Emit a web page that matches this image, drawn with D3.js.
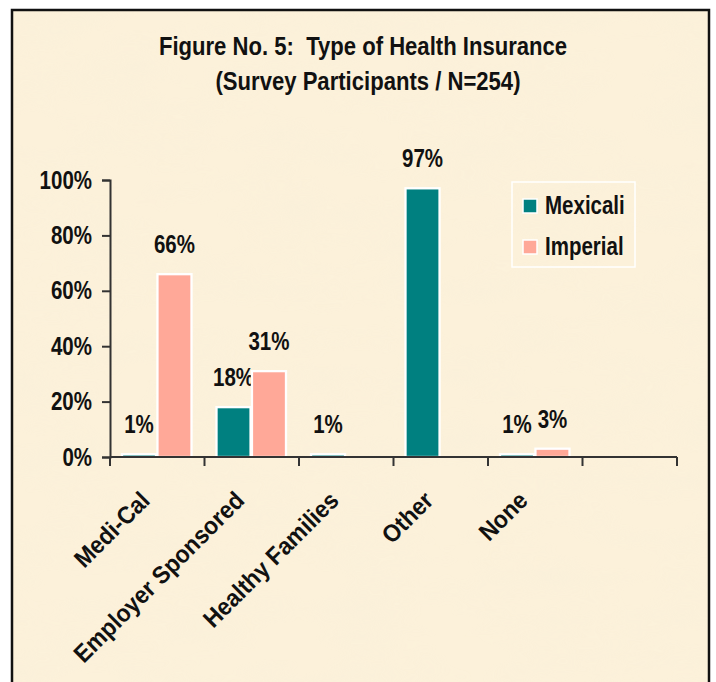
<!DOCTYPE html>
<html>
<head>
<meta charset="utf-8">
<script src="https://cdn.jsdelivr.net/npm/d3@7"></script>
<style>
  body { margin: 0; background: #fff; }
  svg text { font-family: "Liberation Sans", Arial, sans-serif; font-weight: bold; fill: #111; }
</style>
</head>
<body>
<svg id="chart" width="716" height="682"></svg>
<script>
// data
var categories = ["Medi-Cal", "Employer Sponsored", "Healthy Families", "Other", "None", ""];
var seriesNames = ["Mexicali", "Imperial"];
var mexicali = [1, 18, 1, 97, 1, 0];
var imperial = [66, 31, 0, 0, 3, 0];
var yTicks = [0, 20, 40, 60, 80, 100];
var colors = ["#008080", "#FFA898"];

var NARROW = 0.82; // squeeze to look like Arial Narrow

var svg = d3.select("#chart");

// narrow text helper
function ntext(parent, x, y, str, size, anchor, rot, sx) {
  var t = "translate(" + x + "," + y + ")" + (rot ? " rotate(" + rot + ")" : "") + " scale(" + (sx || NARROW) + ",1)";
  return parent.append("text").attr("transform", t).attr("text-anchor", anchor || "start")
    .style("font-size", size + "px").text(str);
}

// parchment background + frame
var defs = svg.append("defs");
var filt = defs.append("filter").attr("id", "paper").attr("x", 0).attr("y", 0).attr("width", 1).attr("height", 1);
filt.append("feTurbulence").attr("type", "fractalNoise").attr("baseFrequency", "0.012 0.03").attr("numOctaves", 3).attr("seed", 4).attr("result", "n");
filt.append("feColorMatrix").attr("in", "n").attr("type", "matrix")
  .attr("values", "0 0 0 0 0.93  0 0 0 0 0.86  0 0 0 0 0.70  0 0 0 -0.9 0.55");
svg.append("rect").attr("x", 12).attr("y", 10).attr("width", 697).attr("height", 690).attr("fill", "#FCF1DA");
svg.append("rect").attr("x", 12).attr("y", 10).attr("width", 697).attr("height", 690).attr("filter", "url(#paper)").attr("opacity", 0.7);
svg.append("rect").attr("x", 12).attr("y", 10).attr("width", 697).attr("height", 690)
  .attr("fill", "none").attr("stroke", "#111").attr("stroke-width", 2.5);

// title
ntext(svg, 363, 55, "Figure No. 5:  Type of Health Insurance", 26, "middle", 0, 0.85).style("white-space", "pre");
ntext(svg, 368, 90, "(Survey Participants / N=254)", 26, "middle", 0, 0.85);

// scales
var x0 = d3.scaleBand().domain(d3.range(categories.length)).range([110, 677]).paddingInner(0).paddingOuter(0);
var x1 = d3.scaleBand().domain([0, 1]).range([12, x0.bandwidth() - 13]).paddingInner(0.04);
var y = d3.scaleLinear().domain([0, 100]).range([457, 180]);

// bars
var rows = categories.map(function (c, i) { return [mexicali[i], imperial[i]]; });
var g = svg.append("g");
rows.forEach(function (vals, i) {
  vals.forEach(function (v, s) {
    if (v === 0) return;
    var bx = x0(i) + x1(s);
    g.append("rect").attr("x", bx).attr("y", y(v)).attr("width", x1.bandwidth()).attr("height", y(0) - y(v))
      .attr("fill", colors[s]).attr("stroke", "#fff").attr("stroke-width", 2.3);
    ntext(g, bx + x1.bandwidth() / 2, y(v) - 21, v + "%", 25, "middle");
  });
});

// y axis
var yAxis = svg.append("g").attr("transform", "translate(110,0)")
  .call(d3.axisLeft(y).tickValues(yTicks).tickSize(8).tickPadding(10).tickFormat(function (d) { return d + "%"; }));
yAxis.selectAll("text").style("font-size", "25px").attr("fill", "#111")
  .attr("x", -18 / NARROW).attr("transform", "scale(" + NARROW + ",1)");
yAxis.select(".domain").attr("stroke", "#333").attr("stroke-width", 2);
yAxis.selectAll(".tick line").attr("stroke", "#333").attr("stroke-width", 2);

// x axis (ticks on band edges)
var xAxis = svg.append("g").attr("transform", "translate(0,457)");
xAxis.append("line").attr("x1", 110).attr("x2", 677).attr("stroke", "#333").attr("stroke-width", 2);
xAxis.selectAll("line.tk").data(d3.range(categories.length + 1)).enter().append("line").attr("class", "tk")
  .attr("x1", function (d) { return d < categories.length ? x0(d) : 677; })
  .attr("x2", function (d) { return d < categories.length ? x0(d) : 677; })
  .attr("y1", 0).attr("y2", 9).attr("stroke", "#333").attr("stroke-width", 2);
categories.forEach(function (c, i) {
  if (!c) return;
  ntext(xAxis, x0(i) + x0.bandwidth() / 2 - 6, 45, c, 24.5, "end", -45, 0.93);
});

// legend
var lg = svg.append("g");
lg.append("rect").attr("x", 512).attr("y", 182).attr("width", 123).attr("height", 85)
  .attr("fill", "none").attr("stroke", "#fff").attr("stroke-width", 1.5);
seriesNames.forEach(function (n, s) {
  lg.append("rect").attr("x", 523).attr("y", 199 + s * 41).attr("width", 14).attr("height", 14)
    .attr("fill", colors[s]).attr("stroke", "#fff").attr("stroke-width", 1.5);
  ntext(lg, 545, 214 + s * 41, n, 25, "start");
});
</script>
</body>
</html>
